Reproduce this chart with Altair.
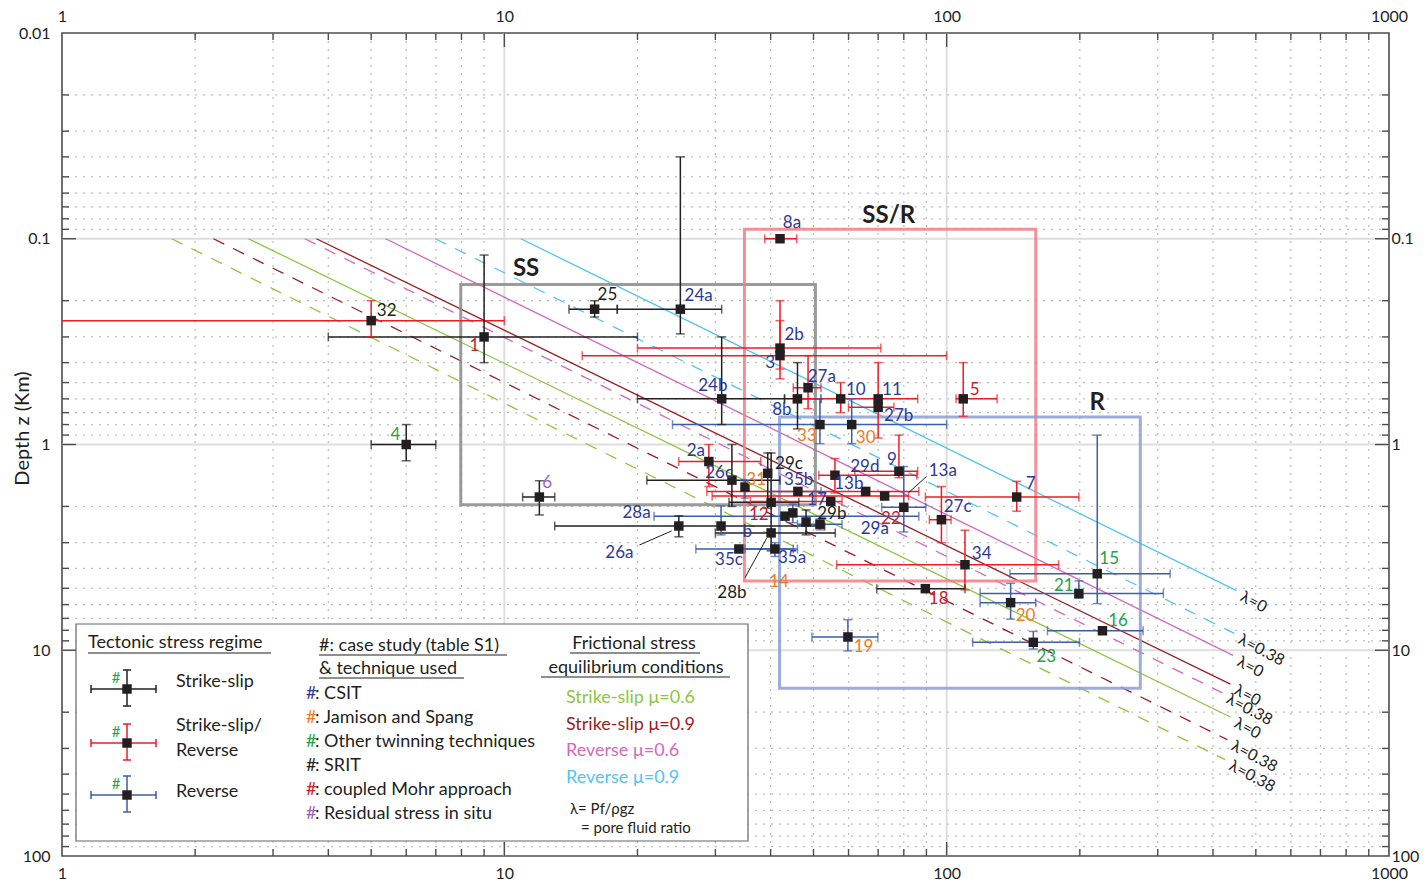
import altair as alt
import pandas as pd

FONT = "Lato"
INK = "#231f20"
TICK = "#4d4d4d"
W, H = 1327, 823

# ---------------- case studies (table S1) ----------------
case_id = ["32", "1", "4", "6", "25", "24a", "8a", "2b", "3", "24b", "8b", "27a", "10", "11", "27b", "5", "33", "30",
           "2a", "26c", "31", "29c", "35b", "29d", "13b", "22", "9", "13a", "12", "17", "28a", "14", "29a", "29b", "b",
           "26a", "28b", "35c", "35a", "7", "27c", "34", "18", "15", "21", "20", "16", "23", "19"]
stress = [5.0, 9.0, 6.0, 12, 16, 25, 42, 42, 42, 31, 46, 48.6, 57.6, 70, 70, 109, 51.7, 61,
          29, 32.7, 35, 39.4, 46.1, 55.9, 65.6, 72.4, 78, 80, 40.1, 54.7, 43.1, 44.9, 48.1, 51.7, 30.9,
          24.8, 40.1, 33.9, 40.9, 144, 97.3, 110, 89.5, 219, 199, 139.5, 225, 157, 59.8]
depth = [0.25, 0.30, 1.0, 1.80, 0.22, 0.22, 0.10, 0.34, 0.37, 0.60, 0.60, 0.53, 0.60, 0.60, 0.66, 0.60, 0.80, 0.80,
         1.21, 1.49, 1.61, 1.38, 1.69, 1.41, 1.69, 1.78, 1.35, 2.02, 1.91, 1.89, 2.23, 2.15, 2.38, 2.44, 2.49,
         2.49, 2.69, 3.22, 3.22, 1.80, 2.32, 3.84, 5.02, 4.25, 5.30, 5.87, 8.04, 9.15, 8.62]
stress_lo = [0.5, 4.0, 5.0, 11, 14, 18, 38.8, 20, 15, 20, 43, 45, None, 45, 60, 105, 24, None,
             24.8, 21, None, None, 40, 51.4, 28.7, 29.5, 62, 71.3, 32.2, 36, 21.8, None, None, 46, None,
             13, 30, 27.1, 35, 89.5, 91.4, 56.4, 69.5, 139, 119, 119, 169, 114.5, 49.6]
stress_hi = [10, 20, 7.0, 13, 18, 31, 45.8, 71, 100, 43, 52, 52, None, 86, 76, 130, 100, None,
             38, 42, None, None, 52, 85.6, 86.5, 82, 86, 89.7, 46.3, 58, 86.5, None, None, 58, None,
             53, 56, 46, 45, 199, 102.3, 179, 110, 320, 309, 159, 278, 199.6, 69.9]
depth_lo = [0.20, 0.12, 0.80, 1.50, 0.20, 0.04, None, 0.20, 0.25, 0.30, 0.40, 0.37, 0.50, 0.40, None, 0.40, 0.60, 0.60,
            1.0, 1.0, 1.50, 1.10, None, 1.17, None, None, 0.90, 1.28, None, None, None, 1.95, 2.08, 2.30, 1.99,
            2.22, 1.10, None, 3.0, 1.51, 1.60, 2.61, None, 0.90, 4.60, 4.73, None, 8.1, 7.11]
depth_hi = [0.30, 0.40, 1.20, 2.20, 0.24, 0.29, None, 0.43, 0.48, 0.80, 0.84, 0.67, 0.70, 0.93, None, 0.73, 0.99, 0.99,
            1.6, 2.0, 1.82, 2.04, None, 1.72, None, None, 1.45, 2.66, None, None, None, 2.40, 2.75, 2.60, 2.75,
            2.81, 3.29, None, 3.5, 2.11, 3.0, 5.09, None, 5.93, 5.59, 7.06, None, 9.86, 10.08]
regime = ["SSR", "SS", "SS", "SS", "SS", "SS", "SSR", "SSR", "SSR", "SS", "SS", "SSR", "SSR", "SSR", "SSR", "SSR", "R", "R",
          "SSR", "SS", "R", "SS", "R", "SSR", "SSR", "SSR", "SSR", "R", "SS", "SSR", "R", "R", "SS", "R", "R",
          "SS", "SS", "R", "R", "SSR", "SSR", "SSR", "SS", "R", "R", "R", "R", "R", "R"]
technique = ["SRIT", "CM", "OT", "RS", "SRIT", "CSIT", "CSIT", "CSIT", "CSIT", "CSIT", "CSIT", "CSIT", "CSIT", "CSIT", "CSIT", "CM", "JS", "JS",
             "CSIT", "CSIT", "JS", "SRIT", "CSIT", "CSIT", "CSIT", "CM", "CSIT", "CSIT", "CM", "CSIT", "CSIT", "JS", "CSIT", "SRIT", "CSIT",
             "CSIT", "SRIT", "CSIT", "CSIT", "CSIT", "CSIT", "CSIT", "CM", "OT", "OT", "JS", "OT", "OT", "JS"]
label_x = [5.42, 8.56, 5.67, 12.5, 17.1, 27.5, 44.7, 45.2, 39.9, 29.6, 42.4, 52.2, 62.3, 75.2, 77.9, 115.7, 48.3, 65.6,
           27.1, 30.6, 37.1, 44.0, 46.3, 65.3, 60.1, 74.8, 75.2, 98, 37.6, 50.9, 19.9, 41.8, 68.8, 55.0, 35.4,
           18.2, 32.7, 32.2, 44.7, 154.8, 105.9, 120, 95.9, 233, 184, 150.8, 244, 168, 64.9]
label_y = [0.225, 0.332, 0.895, 1.53, 0.188, 0.19, 0.0837, 0.294, 0.402, 0.519, 0.678, 0.469, 0.542, 0.542, 0.725, 0.542, 0.914, 0.935,
           1.08, 1.37, 1.49, 1.24, 1.49, 1.28, 1.56, 2.30, 1.19, 1.34, 2.20, 1.86, 2.15, 4.64, 2.57, 2.18, 2.66,
           3.36, 5.25, 3.63, 3.55, 1.56, 2.02, 3.40, 5.61, 3.59, 4.85, 6.78, 7.24, 10.8, 9.67]

# leader lines for crowded labels
leader_id = ["13a", "26a", "28b"]
leader_x0 = [90.1, 20.2, 35.0]
leader_y0 = [1.43, 3.08, 4.44]
leader_x1 = [82.1, 23.9, 39.2]
leader_y1 = [1.71, 2.63, 2.85]

# stress-regime domains
box_name = ["SS", "SS/R", "R"]
box_x0 = [7.97, 34.9, 41.9]
box_x1 = [50.5, 159, 274]
box_y0 = [0.167, 0.0898, 0.735]
box_y1 = [1.965, 4.61, 15.3]
box_label_x = [11.2, 74, 219]
box_label_y = [0.14, 0.0774, 0.627]

# frictional equilibrium lines
line_name = ["Reverse μ=0.9", "Reverse μ=0.9", "Reverse μ=0.6", "Strike-slip μ=0.9",
             "Reverse μ=0.6", "Strike-slip μ=0.6", "Strike-slip μ=0.9", "Strike-slip μ=0.6"]
line_lambda = ["λ=0", "λ=0.38", "λ=0", "λ=0", "λ=0.38", "λ=0", "λ=0.38", "λ=0.38"]
line_x0 = [10.9, 6.98, 5.39, 3.76, 3.54, 2.64, 2.20, 1.77]
line_y0 = [0.1, 0.1, 0.1, 0.1, 0.1, 0.1, 0.1, 0.1]
line_x1 = [452, 447, 444, 438, 420, 438, 431, 426]
line_y1 = [5.13, 8.28, 10.6, 14.6, 16.1, 21.1, 27.2, 34.0]

# grid / tick values
minor_x = [2, 3, 4, 5, 6, 7, 8, 9, 20, 30, 40, 50, 60, 70, 80, 90, 200, 300, 400, 500, 600, 700, 800, 900]
major_x = [10, 100]
minor_y = [0.02, 0.03, 0.04, 0.05, 0.06, 0.07, 0.08, 0.09, 0.2, 0.3, 0.4, 0.5, 0.6, 0.7, 0.8, 0.9,
           2, 3, 4, 5, 6, 7, 8, 9, 20, 30, 40, 50, 60, 70, 80, 90]
major_y = [0.1, 1, 10]
x_labels = [1, 10, 100, 1000]
y_labels_left = [0.01, 0.1, 1, 10, 100]
y_labels_right = [0.1, 1, 10, 100]

# ---------------- tables ----------------
pts = pd.DataFrame({"id": case_id, "x": stress, "y": depth, "regime": regime})
labs = pd.DataFrame({"id": case_id, "lx": label_x, "ly": label_y, "tech": technique})

hb, vb, hc, vc = [], [], [], []
for i in range(len(case_id)):
    if stress_lo[i] is not None:
        hb.append({"xa": stress_lo[i], "xb": stress_hi[i], "y": depth[i], "regime": regime[i]})
        hc.append({"x": stress_lo[i], "y": depth[i], "regime": regime[i]})
        hc.append({"x": stress_hi[i], "y": depth[i], "regime": regime[i]})
    if depth_lo[i] is not None:
        vb.append({"x": stress[i], "ya": depth_lo[i], "yb": depth_hi[i], "regime": regime[i]})
        vc.append({"x": stress[i], "y": depth_lo[i], "regime": regime[i]})
        vc.append({"x": stress[i], "y": depth_hi[i], "regime": regime[i]})
hb, vb, hc, vc = pd.DataFrame(hb), pd.DataFrame(vb), pd.DataFrame(hc), pd.DataFrame(vc)

lines = pd.DataFrame({"name": line_name, "lam": line_lambda, "x0": line_x0, "y0": line_y0,
                      "x1": line_x1, "y1": line_y1})
boxes = pd.DataFrame({"name": box_name, "x0": box_x0, "x1": box_x1, "y0": box_y0, "y1": box_y1,
                      "lx": box_label_x, "ly": box_label_y})
leaders = pd.DataFrame({"id": leader_id, "x0": leader_x0, "y0": leader_y0, "x1": leader_x1, "y1": leader_y1})

XS = alt.Scale(type="log", domain=[1, 1000], nice=False)
YS = alt.Scale(type="log", domain=[0.01, 100], reverse=True, nice=False)

REG = alt.Scale(domain=["SS", "SSR", "R"], range=[INK, "#ed1c24", "#3d5da9"])
TECH = alt.Scale(domain=["CSIT", "JS", "OT", "SRIT", "CM", "RS"],
                 range=["#2e3a97", "#ee7b22", "#21a14a", INK, "#c4202d", "#9b5fb5"])
LINEC = alt.Scale(domain=["Strike-slip μ=0.6", "Strike-slip μ=0.9", "Reverse μ=0.6", "Reverse μ=0.9"],
                  range=["#8cc63f", "#9b1c22", "#d467c0", "#4ec5f1"])
BOXC = alt.Scale(domain=box_name, range=["#8a8a8a", "#f47c84", "#8c9fd3"])

lab_common = dict(format="~g", ticks=False, domain=False, grid=False, labelFont=FONT, labelFontSize=16,
                  labelColor=INK, labelFlush=False, labelOverlap=False)
AXB = alt.Axis(orient="bottom", values=x_labels, labelPadding=9, title=None, **lab_common)
AXT = alt.Axis(orient="top", values=x_labels, labelPadding=9, title=None, **lab_common)
AXL = alt.Axis(orient="left", values=y_labels_left, labelPadding=12, title="Depth z (Km)",
               titleFont=FONT, titleFontSize=20, titleFontWeight="normal", titleColor=INK,
               titleX=-40, titleY=395, titleBaseline="middle", titleAngle=270, **lab_common)
AXR = alt.Axis(orient="right", values=y_labels_right, labelPadding=2, title=None, **lab_common)

layers = []
# grid
layers.append(alt.Chart(pd.DataFrame({"v": minor_x})).mark_rule(color="#bdbdbd", strokeDash=[2, 6], strokeWidth=1.2)
              .encode(x=alt.X("v:Q", scale=XS, axis=AXB)))
layers.append(alt.Chart(pd.DataFrame({"v": minor_y})).mark_rule(color="#bdbdbd", strokeDash=[2, 6], strokeWidth=1.2)
              .encode(y=alt.Y("v:Q", scale=YS, axis=AXR)))
layers.append(alt.Chart(pd.DataFrame({"v": major_x})).mark_rule(color="#dedede", strokeWidth=2)
              .encode(x=alt.X("v:Q", scale=XS, axis=AXT)))
layers.append(alt.Chart(pd.DataFrame({"v": major_y})).mark_rule(color="#dedede", strokeWidth=2)
              .encode(y=alt.Y("v:Q", scale=YS, axis=AXL)))

# inward ticks
for vals, ln in ((minor_x, 7), (major_x, 14)):
    d = pd.DataFrame({"v": vals})
    layers.append(alt.Chart(d).mark_rule(color=TICK, strokeWidth=1.4).encode(
        x=alt.X("v:Q", scale=XS, axis=None), y=alt.value(0), y2=alt.value(ln)))
    layers.append(alt.Chart(d).mark_rule(color=TICK, strokeWidth=1.4).encode(
        x=alt.X("v:Q", scale=XS, axis=None), y=alt.value(H), y2=alt.value(H - ln)))
for vals, ln in ((minor_y, 7), (major_y, 14)):
    d = pd.DataFrame({"v": vals})
    layers.append(alt.Chart(d).mark_rule(color=TICK, strokeWidth=1.4).encode(
        y=alt.Y("v:Q", scale=YS, axis=None), x=alt.value(0), x2=alt.value(ln)))
    layers.append(alt.Chart(d).mark_rule(color=TICK, strokeWidth=1.4).encode(
        y=alt.Y("v:Q", scale=YS, axis=None), x=alt.value(W), x2=alt.value(W - ln)))

# friction lines
base_lines = alt.Chart(lines).encode(
    x=alt.X("x0:Q", scale=XS, axis=None), x2="x1:Q",
    y=alt.Y("y0:Q", scale=YS, axis=None), y2="y1:Q",
    color=alt.Color("name:N", scale=LINEC, legend=None))
layers.append(base_lines.transform_filter("datum.lam == 'λ=0'").mark_rule(strokeWidth=1.3))
layers.append(base_lines.transform_filter("datum.lam != 'λ=0'").mark_rule(strokeWidth=1.3, strokeDash=[12, 10]))
layers.append(alt.Chart(lines).mark_text(font=FONT, fontSize=16, color=INK, align="left", baseline="middle",
                                         angle=28, dx=7, dy=2)
              .encode(x=alt.X("x1:Q", scale=XS, axis=None), y=alt.Y("y1:Q", scale=YS, axis=None), text="lam:N"))

# regime boxes
layers.append(alt.Chart(boxes).mark_rect(filled=False, strokeWidth=3, strokeOpacity=0.85).encode(
    x=alt.X("x0:Q", scale=XS, axis=None), x2="x1:Q",
    y=alt.Y("y0:Q", scale=YS, axis=None), y2="y1:Q",
    stroke=alt.Stroke("name:N", scale=BOXC, legend=None)))
layers.append(alt.Chart(boxes).mark_text(font=FONT, fontSize=24, fontWeight="bold", color=INK).encode(
    x=alt.X("lx:Q", scale=XS, axis=None), y=alt.Y("ly:Q", scale=YS, axis=None), text="name:N"))

# error bars
layers.append(alt.Chart(hb).mark_rule(strokeWidth=1.5, clip=True).encode(
    x=alt.X("xa:Q", scale=XS, axis=None), x2="xb:Q", y=alt.Y("y:Q", scale=YS, axis=None),
    color=alt.Color("regime:N", scale=REG, legend=None)))
layers.append(alt.Chart(vb).mark_rule(strokeWidth=1.5, clip=True).encode(
    x=alt.X("x:Q", scale=XS, axis=None), y=alt.Y("ya:Q", scale=YS, axis=None), y2="yb:Q",
    color=alt.Color("regime:N", scale=REG, legend=None)))
layers.append(alt.Chart(hc).mark_tick(orient="vertical", size=9, thickness=1.5, clip=True).encode(
    x=alt.X("x:Q", scale=XS, axis=None), y=alt.Y("y:Q", scale=YS, axis=None),
    color=alt.Color("regime:N", scale=REG, legend=None)))
layers.append(alt.Chart(vc).mark_tick(orient="horizontal", size=9, thickness=1.5, clip=True).encode(
    x=alt.X("x:Q", scale=XS, axis=None), y=alt.Y("y:Q", scale=YS, axis=None),
    color=alt.Color("regime:N", scale=REG, legend=None)))

# leaders
layers.append(alt.Chart(leaders).mark_rule(color=INK, strokeWidth=1).encode(
    x=alt.X("x0:Q", scale=XS, axis=None), x2="x1:Q", y=alt.Y("y0:Q", scale=YS, axis=None), y2="y1:Q"))

# points
layers.append(alt.Chart(pts).mark_square(size=90, color=INK, opacity=1).encode(
    x=alt.X("x:Q", scale=XS, axis=None), y=alt.Y("y:Q", scale=YS, axis=None)))

# case labels
layers.append(alt.Chart(labs).mark_text(font=FONT, fontSize=17, align="center", baseline="middle").encode(
    x=alt.X("lx:Q", scale=XS, axis=None), y=alt.Y("ly:Q", scale=YS, axis=None), text="id:N",
    color=alt.Color("tech:N", scale=TECH, legend=None)))

# ---------------- legend (drawn in pixel space) ----------------
one = pd.DataFrame({"k": [0]})


def ptext(t, x, y, size=18, color=INK, align="left"):
    return alt.Chart(one).mark_text(text=t, align=align, baseline="middle", font=FONT, fontSize=size,
                                    color=color).encode(x=alt.value(x), y=alt.value(y))


def pseg(x1, y1, x2, y2, color=INK, width=1.2):
    return alt.Chart(one).mark_rule(color=color, strokeWidth=width).encode(
        x=alt.value(x1), x2=alt.value(x2), y=alt.value(y1), y2=alt.value(y2))


layers.append(alt.Chart(one).mark_rect(fill="white", stroke="#666666", strokeWidth=1.2).encode(
    x=alt.value(14), x2=alt.value(686), y=alt.value(591), y2=alt.value(808)))

# column 1
layers.append(ptext("Tectonic stress regime", 26, 610))
layers.append(pseg(26, 620, 209, 620))
for cy, col in ((656, INK), (710, "#ed1c24"), (762, "#3d5da9")):
    layers.append(pseg(29, cy, 94, cy, col, 1.5))
    layers.append(pseg(29, cy - 4, 29, cy + 4, col, 1.5))
    layers.append(pseg(94, cy - 4, 94, cy + 4, col, 1.5))
    layers.append(pseg(65, cy - 19, 65, cy + 17, col, 1.5))
    layers.append(pseg(61, cy - 19, 69, cy - 19, col, 1.5))
    layers.append(pseg(61, cy + 17, 69, cy + 17, col, 1.5))
    layers.append(alt.Chart(one).mark_square(size=90, color=INK, opacity=1).encode(
        x=alt.value(65), y=alt.value(cy)))
    layers.append(ptext("#", 54, cy - 11, 15, "#21a14a", "center"))
layers.append(ptext("Strike-slip", 114, 649))
layers.append(ptext("Strike-slip/", 114, 693))
layers.append(ptext("Reverse", 114, 718))
layers.append(ptext("Reverse", 114, 759))

# column 2
layers.append(ptext("#: case study (table S1)", 257, 613))
layers.append(pseg(257, 622, 445, 622))
layers.append(ptext("& technique used", 257, 636))
layers.append(pseg(257, 645, 402, 645))
tech_text = [": CSIT", ": Jamison and Spang", ": Other twinning techniques", ": SRIT",
             ": coupled Mohr approach", ": Residual stress in situ"]
tech_col = ["#2e3a97", "#ee7b22", "#21a14a", INK, "#c4202d", "#9b5fb5"]
for k, (t, c) in enumerate(zip(tech_text, tech_col)):
    yy = 661 + 24 * k
    layers.append(ptext("#", 244, yy, 18, c))
    layers.append(ptext(t, 253, yy))

# column 3
layers.append(ptext("Frictional stress", 572, 611, align="center"))
layers.append(pseg(508, 620, 638, 620))
layers.append(ptext("equilibrium conditions", 574, 635, align="center"))
layers.append(pseg(479, 644, 668, 644))
for k, (t, c) in enumerate(zip(["Strike-slip μ=0.6", "Strike-slip μ=0.9", "Reverse μ=0.6", "Reverse μ=0.9"],
                               ["#8cc63f", "#9b1c22", "#d467c0", "#4ec5f1"])):
    layers.append(ptext(t, 504, 665 + 26.5 * k, 18, c))
layers.append(ptext("λ= Pf/ρgz", 508, 776, 15))
layers.append(ptext("= pore fluid ratio", 519, 795, 15))

chart = (alt.layer(*layers)
         .resolve_scale(color="independent", stroke="independent")
         .resolve_axis(x="independent", y="independent")
         .properties(width=W, height=H, padding={"left": 4, "top": 0, "right": 0, "bottom": 0})
         .configure_view(stroke=TICK, strokeWidth=1.6))

chart.save("out.html", embed_options={"renderer": "svg", "actions": False})
